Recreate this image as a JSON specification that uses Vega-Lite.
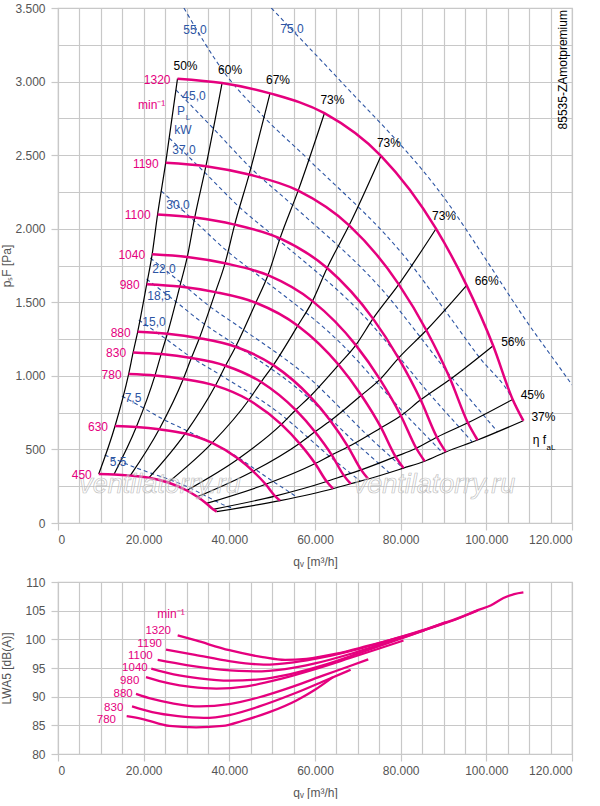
{
  "$schema": "https://vega.github.io/schema/vega-lite/v6.json",
  "padding": {"left": 0, "top": 1, "right": 0, "bottom": 0},
  "bounds": "flush",
  "spacing": 59,
  "config": {
    "font": "Liberation Sans",
    "view": {"stroke": "#c8c8c8", "strokeWidth": 1.2},
    "axis": {
      "domain": false,
      "gridColor": "#c8c8c8",
      "gridWidth": 1.2,
      "tickColor": "#c8c8c8",
      "tickWidth": 1.2,
      "tickSize": 7,
      "labelColor": "#555555",
      "labelFontSize": 12,
      "labelPadding": 4,
      "titleColor": "#555555",
      "titleFontSize": 12,
      "titleFontWeight": "normal"
    }
  },
  "datasets": {
    "grid": [
      {"n": 1320, "i": 0, "x": 27900, "y": 3020, "eta": "50%"},
      {"n": 1320, "i": 1, "x": 38300, "y": 2990, "eta": "60%"},
      {"n": 1320, "i": 2, "x": 49500, "y": 2920, "eta": "67%"},
      {"n": 1320, "i": 3, "x": 62200, "y": 2785, "eta": "73%"},
      {"n": 1320, "i": 4, "x": 75400, "y": 2495, "eta": "73%"},
      {"n": 1320, "i": 5, "x": 88250, "y": 2000, "eta": "73%"},
      {"n": 1320, "i": 6, "x": 95400, "y": 1615, "eta": "66%"},
      {"n": 1320, "i": 7, "x": 101600, "y": 1205, "eta": "56%"},
      {"n": 1320, "i": 8, "x": 106150, "y": 840, "eta": "45%"},
      {"n": 1320, "i": 9, "x": 108650, "y": 695, "eta": "37%"},
      {"n": 1190, "i": 0, "x": 25150, "y": 2449},
      {"n": 1190, "i": 1, "x": 34530, "y": 2425},
      {"n": 1190, "i": 2, "x": 44620, "y": 2368},
      {"n": 1190, "i": 3, "x": 56070, "y": 2259},
      {"n": 1190, "i": 4, "x": 67970, "y": 2023},
      {"n": 1190, "i": 5, "x": 79560, "y": 1622},
      {"n": 1190, "i": 6, "x": 86000, "y": 1310},
      {"n": 1190, "i": 7, "x": 91590, "y": 977},
      {"n": 1190, "i": 8, "x": 95690, "y": 681},
      {"n": 1190, "i": 9, "x": 97950, "y": 564},
      {"n": 1100, "i": 0, "x": 23250, "y": 2097},
      {"n": 1100, "i": 1, "x": 31920, "y": 2076},
      {"n": 1100, "i": 2, "x": 41250, "y": 2028},
      {"n": 1100, "i": 3, "x": 51830, "y": 1934},
      {"n": 1100, "i": 4, "x": 62830, "y": 1733},
      {"n": 1100, "i": 5, "x": 73540, "y": 1389},
      {"n": 1100, "i": 6, "x": 79500, "y": 1121},
      {"n": 1100, "i": 7, "x": 84660, "y": 837},
      {"n": 1100, "i": 8, "x": 88460, "y": 583},
      {"n": 1100, "i": 9, "x": 90540, "y": 483},
      {"n": 1040, "i": 0, "x": 21980, "y": 1826},
      {"n": 1040, "i": 1, "x": 30180, "y": 1808},
      {"n": 1040, "i": 2, "x": 39000, "y": 1765},
      {"n": 1040, "i": 3, "x": 49010, "y": 1684},
      {"n": 1040, "i": 4, "x": 59410, "y": 1508},
      {"n": 1040, "i": 5, "x": 69530, "y": 1209},
      {"n": 1040, "i": 6, "x": 75170, "y": 976},
      {"n": 1040, "i": 7, "x": 80050, "y": 729},
      {"n": 1040, "i": 8, "x": 83640, "y": 508},
      {"n": 1040, "i": 9, "x": 85610, "y": 420},
      {"n": 980, "i": 0, "x": 20710, "y": 1623},
      {"n": 980, "i": 1, "x": 28430, "y": 1607},
      {"n": 980, "i": 2, "x": 36750, "y": 1569},
      {"n": 980, "i": 3, "x": 46180, "y": 1497},
      {"n": 980, "i": 4, "x": 55980, "y": 1341},
      {"n": 980, "i": 5, "x": 65520, "y": 1075},
      {"n": 980, "i": 6, "x": 70820, "y": 868},
      {"n": 980, "i": 7, "x": 75430, "y": 648},
      {"n": 980, "i": 8, "x": 78810, "y": 451},
      {"n": 980, "i": 9, "x": 80660, "y": 373},
      {"n": 880, "i": 0, "x": 18600, "y": 1299},
      {"n": 880, "i": 1, "x": 25530, "y": 1286},
      {"n": 880, "i": 2, "x": 33000, "y": 1256},
      {"n": 880, "i": 3, "x": 41470, "y": 1198},
      {"n": 880, "i": 4, "x": 50270, "y": 1073},
      {"n": 880, "i": 5, "x": 58830, "y": 860},
      {"n": 880, "i": 6, "x": 63600, "y": 695},
      {"n": 880, "i": 7, "x": 67730, "y": 518},
      {"n": 880, "i": 8, "x": 70770, "y": 361},
      {"n": 880, "i": 9, "x": 72430, "y": 299},
      {"n": 830, "i": 0, "x": 17540, "y": 1159},
      {"n": 830, "i": 1, "x": 24080, "y": 1148},
      {"n": 830, "i": 2, "x": 31130, "y": 1121},
      {"n": 830, "i": 3, "x": 39110, "y": 1069},
      {"n": 830, "i": 4, "x": 47410, "y": 958},
      {"n": 830, "i": 5, "x": 55490, "y": 768},
      {"n": 830, "i": 6, "x": 59990, "y": 620},
      {"n": 830, "i": 7, "x": 63890, "y": 463},
      {"n": 830, "i": 8, "x": 66750, "y": 322},
      {"n": 830, "i": 9, "x": 68320, "y": 267},
      {"n": 780, "i": 0, "x": 16490, "y": 1012},
      {"n": 780, "i": 1, "x": 22630, "y": 1002},
      {"n": 780, "i": 2, "x": 29250, "y": 979},
      {"n": 780, "i": 3, "x": 36750, "y": 934},
      {"n": 780, "i": 4, "x": 44550, "y": 836},
      {"n": 780, "i": 5, "x": 52150, "y": 670},
      {"n": 780, "i": 6, "x": 56370, "y": 541},
      {"n": 780, "i": 7, "x": 60040, "y": 404},
      {"n": 780, "i": 8, "x": 62720, "y": 282},
      {"n": 780, "i": 9, "x": 64200, "y": 233},
      {"n": 630, "i": 0, "x": 13320, "y": 659},
      {"n": 630, "i": 1, "x": 18280, "y": 652},
      {"n": 630, "i": 2, "x": 23630, "y": 637},
      {"n": 630, "i": 3, "x": 29690, "y": 608},
      {"n": 630, "i": 4, "x": 35990, "y": 544},
      {"n": 630, "i": 5, "x": 42120, "y": 436},
      {"n": 630, "i": 6, "x": 45530, "y": 352},
      {"n": 630, "i": 7, "x": 48490, "y": 263},
      {"n": 630, "i": 8, "x": 50670, "y": 183},
      {"n": 630, "i": 9, "x": 51860, "y": 152},
      {"n": 450, "i": 0, "x": 9510, "y": 333},
      {"n": 450, "i": 1, "x": 13060, "y": 330},
      {"n": 450, "i": 2, "x": 16870, "y": 322},
      {"n": 450, "i": 3, "x": 21200, "y": 307},
      {"n": 450, "i": 4, "x": 25700, "y": 275},
      {"n": 450, "i": 5, "x": 30080, "y": 221},
      {"n": 450, "i": 6, "x": 32520, "y": 178},
      {"n": 450, "i": 7, "x": 34640, "y": 133},
      {"n": 450, "i": 8, "x": 36190, "y": 93},
      {"n": 450, "i": 9, "x": 37040, "y": 77}
    ],
    "power": [
      {"P": "5,5", "x": 10910, "y": 462}, {"P": "5,5", "x": 14370, "y": 421}, {"P": "5,5", "x": 17830, "y": 379},
      {"P": "5,5", "x": 21700, "y": 339}, {"P": "5,5", "x": 30600, "y": 241},
      {"P": "5,5", "x": 33480, "y": 199}, {"P": "5,5", "x": 36430, "y": 155}, {"P": "5,5", "x": 39340, "y": 115},
      {"P": "5,5", "x": 41200, "y": 98},
      {"P": "7,5", "x": 14920, "y": 863}, {"P": "7,5", "x": 19640, "y": 787}, {"P": "7,5", "x": 24370, "y": 708},
      {"P": "7,5", "x": 29660, "y": 633}, {"P": "7,5", "x": 41830, "y": 449},
      {"P": "7,5", "x": 45750, "y": 371}, {"P": "7,5", "x": 49800, "y": 290}, {"P": "7,5", "x": 53770, "y": 215},
      {"P": "7,5", "x": 55720, "y": 177},
      {"P": "15,0", "x": 18860, "y": 1380}, {"P": "15,0", "x": 24840, "y": 1258}, {"P": "15,0", "x": 30810, "y": 1132},
      {"P": "15,0", "x": 37510, "y": 1013}, {"P": "15,0", "x": 52890, "y": 718},
      {"P": "15,0", "x": 57850, "y": 594}, {"P": "15,0", "x": 62970, "y": 463}, {"P": "15,0", "x": 67990, "y": 345},
      {"P": "15,0", "x": 70570, "y": 285},
      {"P": "18,5", "x": 20670, "y": 1658}, {"P": "18,5", "x": 27230, "y": 1511}, {"P": "18,5", "x": 33780, "y": 1360},
      {"P": "18,5", "x": 41120, "y": 1217}, {"P": "18,5", "x": 57980, "y": 863},
      {"P": "18,5", "x": 63410, "y": 714}, {"P": "18,5", "x": 69030, "y": 556}, {"P": "18,5", "x": 74530, "y": 414},
      {"P": "18,5", "x": 77270, "y": 343},
      {"P": "22,0", "x": 21550, "y": 1801}, {"P": "22,0", "x": 28380, "y": 1641}, {"P": "22,0", "x": 35200, "y": 1477},
      {"P": "22,0", "x": 42860, "y": 1322}, {"P": "22,0", "x": 60430, "y": 938},
      {"P": "22,0", "x": 66090, "y": 775}, {"P": "22,0", "x": 71940, "y": 604}, {"P": "22,0", "x": 77670, "y": 450},
      {"P": "22,0", "x": 80570, "y": 373},
      {"P": "30,0", "x": 24110, "y": 2256}, {"P": "30,0", "x": 31750, "y": 2055}, {"P": "30,0", "x": 39400, "y": 1850},
      {"P": "30,0", "x": 47960, "y": 1655}, {"P": "30,0", "x": 67630, "y": 1174},
      {"P": "30,0", "x": 73960, "y": 971}, {"P": "30,0", "x": 80510, "y": 757}, {"P": "30,0", "x": 86930, "y": 563},
      {"P": "30,0", "x": 89850, "y": 475},
      {"P": "37,0", "x": 25970, "y": 2616}, {"P": "37,0", "x": 34200, "y": 2384}, {"P": "37,0", "x": 42430, "y": 2145},
      {"P": "37,0", "x": 51640, "y": 1920}, {"P": "37,0", "x": 72820, "y": 1362},
      {"P": "37,0", "x": 79660, "y": 1126}, {"P": "37,0", "x": 86710, "y": 878}, {"P": "37,0", "x": 93600, "y": 653},
      {"P": "37,0", "x": 96720, "y": 550},
      {"P": "45,0", "x": 27540, "y": 2943}, {"P": "45,0", "x": 36270, "y": 2681}, {"P": "45,0", "x": 45000, "y": 2413},
      {"P": "45,0", "x": 54780, "y": 2160}, {"P": "45,0", "x": 77250, "y": 1532},
      {"P": "45,0", "x": 84490, "y": 1267}, {"P": "45,0", "x": 91960, "y": 987}, {"P": "45,0", "x": 99280, "y": 735},
      {"P": "45,0", "x": 102600, "y": 620},
      {"P": "55,0", "x": 29400, "y": 3500}, {"P": "55,0", "x": 38770, "y": 3064}, {"P": "55,0", "x": 48100, "y": 2758},
      {"P": "55,0", "x": 58550, "y": 2468}, {"P": "55,0", "x": 82580, "y": 1751},
      {"P": "55,0", "x": 90310, "y": 1447}, {"P": "55,0", "x": 98300, "y": 1128}, {"P": "55,0", "x": 106130, "y": 840},
      {"P": "55,0", "x": 108400, "y": 700},
      {"P": "75,0", "x": 49800, "y": 3500}, {"P": "75,0", "x": 53340, "y": 3391}, {"P": "75,0", "x": 64940, "y": 3035},
      {"P": "75,0", "x": 91560, "y": 2153}, {"P": "75,0", "x": 100140, "y": 1780},
      {"P": "75,0", "x": 109010, "y": 1387}, {"P": "75,0", "x": 117700, "y": 1033}, {"P": "75,0", "x": 120000, "y": 939}
    ],
    "ann": [
      {"x": 31980, "y": 3350, "t": "55,0", "g": "b"},
      {"x": 54630, "y": 3357, "t": "75,0", "g": "b"},
      {"x": 31750, "y": 2902, "t": "45,0", "g": "b"},
      {"x": 28720, "y": 2800, "t": "P", "g": "b"},
      {"x": 29180, "y": 2671, "t": "kW", "g": "b"},
      {"x": 29410, "y": 2535, "t": "37,0", "g": "b"},
      {"x": 28010, "y": 2161, "t": "30,0", "g": "b"},
      {"x": 24750, "y": 1726, "t": "22,0", "g": "b"},
      {"x": 23580, "y": 1543, "t": "18,5", "g": "b"},
      {"x": 22410, "y": 1366, "t": "15,0", "g": "b"},
      {"x": 17510, "y": 849, "t": "7,5", "g": "b"},
      {"x": 14010, "y": 414, "t": "5,5", "g": "b"},
      {"x": 21870, "y": 2841, "t": "min⁻¹", "g": "m"},
      {"x": 112410, "y": 564, "t": "η f", "g": "k"}
    ],
    "annsub": [
      {"x": 30350, "y": 2755, "t": "L", "g": "b"},
      {"x": 115100, "y": 510, "t": "aL", "g": "k"}
    ],
    "code": [
      {"x": 117820, "y": 3486, "t": "85535-ZAmotpremium"}
    ],
    "mark": [
      {"x": 23810, "y": 258, "t": "ventilatorry.ru"},
      {"x": 87900, "y": 258, "t": "ventilatorry.ru"}
    ],
    "noise": [
      {"n": 1320, "x": 27940, "L": 100.7}, {"n": 1320, "x": 32220, "L": 99.8}, {"n": 1320, "x": 40000, "L": 98.1},
      {"n": 1320, "x": 47780, "L": 96.9}, {"n": 1320, "x": 53000, "L": 96.4}, {"n": 1320, "x": 58000, "L": 96.6},
      {"n": 1320, "x": 65000, "L": 97.5}, {"n": 1320, "x": 72000, "L": 98.8}, {"n": 1320, "x": 80000, "L": 100.4},
      {"n": 1320, "x": 88000, "L": 102.2}, {"n": 1320, "x": 94000, "L": 103.8}, {"n": 1320, "x": 98000, "L": 105.1},
      {"n": 1320, "x": 101000, "L": 105.9}, {"n": 1320, "x": 104000, "L": 107.2}, {"n": 1320, "x": 106500, "L": 107.9},
      {"n": 1320, "x": 108650, "L": 108.2},
      {"n": 1190, "x": 25210, "L": 98.2}, {"n": 1190, "x": 32000, "L": 97.3}, {"n": 1190, "x": 40000, "L": 96.2},
      {"n": 1190, "x": 48000, "L": 95.6}, {"n": 1190, "x": 55000, "L": 96.0}, {"n": 1190, "x": 62000, "L": 96.9},
      {"n": 1190, "x": 70000, "L": 98.3}, {"n": 1190, "x": 78000, "L": 100.0}, {"n": 1190, "x": 86000, "L": 101.8},
      {"n": 1190, "x": 92000, "L": 103.3}, {"n": 1190, "x": 97950, "L": 105.0},
      {"n": 1100, "x": 23270, "L": 96.4}, {"n": 1100, "x": 30000, "L": 95.5}, {"n": 1100, "x": 38000, "L": 94.7},
      {"n": 1100, "x": 46000, "L": 94.4}, {"n": 1100, "x": 53000, "L": 94.8}, {"n": 1100, "x": 60000, "L": 95.8},
      {"n": 1100, "x": 68000, "L": 97.4}, {"n": 1100, "x": 76000, "L": 99.3}, {"n": 1100, "x": 84000, "L": 101.2},
      {"n": 1100, "x": 90540, "L": 103.0},
      {"n": 1040, "x": 21780, "L": 94.9}, {"n": 1040, "x": 27000, "L": 93.9}, {"n": 1040, "x": 33000, "L": 93.2},
      {"n": 1040, "x": 40000, "L": 92.8}, {"n": 1040, "x": 47000, "L": 93.0}, {"n": 1040, "x": 54000, "L": 93.9},
      {"n": 1040, "x": 62000, "L": 95.5}, {"n": 1040, "x": 70000, "L": 97.5}, {"n": 1040, "x": 78000, "L": 99.6},
      {"n": 1040, "x": 85600, "L": 101.6},
      {"n": 980, "x": 20540, "L": 93.4}, {"n": 980, "x": 26000, "L": 92.3}, {"n": 980, "x": 31000, "L": 91.7},
      {"n": 980, "x": 37000, "L": 91.4}, {"n": 980, "x": 44000, "L": 91.8}, {"n": 980, "x": 52000, "L": 93.1},
      {"n": 980, "x": 60000, "L": 94.8}, {"n": 980, "x": 68000, "L": 96.7}, {"n": 980, "x": 75000, "L": 98.4},
      {"n": 980, "x": 80660, "L": 99.8},
      {"n": 880, "x": 18210, "L": 90.5}, {"n": 880, "x": 22000, "L": 89.6}, {"n": 880, "x": 27000, "L": 88.8},
      {"n": 880, "x": 33000, "L": 88.3}, {"n": 880, "x": 40000, "L": 88.7}, {"n": 880, "x": 47000, "L": 89.9},
      {"n": 880, "x": 55000, "L": 91.8}, {"n": 880, "x": 62000, "L": 93.7}, {"n": 880, "x": 68000, "L": 95.3},
      {"n": 880, "x": 72430, "L": 96.5},
      {"n": 830, "x": 17280, "L": 88.3}, {"n": 830, "x": 22000, "L": 87.3}, {"n": 830, "x": 28000, "L": 86.6},
      {"n": 830, "x": 34000, "L": 86.3}, {"n": 830, "x": 40000, "L": 86.8}, {"n": 830, "x": 47000, "L": 88.3},
      {"n": 830, "x": 55000, "L": 90.5}, {"n": 830, "x": 62000, "L": 92.7}, {"n": 830, "x": 68320, "L": 94.7},
      {"n": 780, "x": 16030, "L": 86.6}, {"n": 780, "x": 19770, "L": 86.1}, {"n": 780, "x": 25990, "L": 84.9},
      {"n": 780, "x": 32220, "L": 84.65}, {"n": 780, "x": 38450, "L": 84.9}, {"n": 780, "x": 43120, "L": 85.8},
      {"n": 780, "x": 49340, "L": 87.3}, {"n": 780, "x": 55560, "L": 89.3}, {"n": 780, "x": 60000, "L": 91.2},
      {"n": 780, "x": 64200, "L": 93.4}
    ],
    "lbl2": [
      {"x": 26380, "L": 101.4, "t": "1320"},
      {"x": 24280, "L": 99.2, "t": "1190"},
      {"x": 22110, "L": 97.1, "t": "1100"},
      {"x": 20940, "L": 95.0, "t": "1040"},
      {"x": 18980, "L": 92.8, "t": "980"},
      {"x": 17440, "L": 90.45, "t": "880"},
      {"x": 15240, "L": 88.1, "t": "830"},
      {"x": 13540, "L": 85.9, "t": "780"}
    ],
    "ann2": [
      {"x": 26380, "L": 104.5, "t": "min⁻¹"}
    ]
  },
  "vconcat": [
    {
      "width": 514,
      "height": 515,
      "encoding": {
        "x": {
          "field": "x",
          "type": "quantitative",
          "scale": {"domain": [0, 120000], "nice": false, "zero": false},
          "title": "qᵥ [m³/h]",
          "axis": {
            "values": [0, 5000, 10000, 15000, 20000, 25000, 30000, 35000, 40000, 45000, 50000, 55000, 60000, 65000, 70000, 75000, 80000, 85000, 90000, 95000, 100000, 105000, 110000, 115000, 120000],
            "labelExpr": "datum.value % 20000 === 0 ? replace(format(datum.value, ','), ',', '.') : ''",
            "tickOpacity": {"condition": {"test": "datum.value % 20000 === 0", "value": 1}, "value": 0},
            "titlePadding": 11
          }
        },
        "y": {
          "field": "y",
          "type": "quantitative",
          "scale": {"domain": [0, 3500], "nice": false},
          "title": "pₛF [Pa]",
          "axis": {
            "values": [0, 250, 500, 750, 1000, 1250, 1500, 1750, 2000, 2250, 2500, 2750, 3000, 3250, 3500],
            "labelExpr": "datum.value % 500 === 0 ? replace(format(datum.value, ','), ',', '.') : ''",
            "tickOpacity": {"condition": {"test": "datum.value % 500 === 0", "value": 1}, "value": 0},
            "labelPadding": 6,
            "titlePadding": 1
          }
        }
      },
      "layer": [
        {
          "data": {"name": "power"},
          "mark": {"type": "line", "clip": true, "color": "#2d55a4", "strokeWidth": 1.1, "strokeDash": [4, 3], "interpolate": "monotone"},
          "encoding": {"detail": {"field": "P"}}
        },
        {
          "data": {"name": "grid"},
          "mark": {"type": "line", "color": "#000000", "strokeWidth": 1.2, "interpolate": "monotone"},
          "encoding": {"detail": {"field": "i"}}
        },
        {
          "data": {"name": "grid"},
          "mark": {"type": "line", "color": "#e5007e", "strokeWidth": 2.5, "interpolate": "monotone"},
          "encoding": {"detail": {"field": "n"}}
        },
        {
          "data": {"name": "mark"},
          "mark": {"type": "text", "align": "center", "baseline": "middle", "fontSize": 27, "fontStyle": "italic", "color": "#ffffff", "fillOpacity": 0.35, "stroke": "#b0b0b0", "strokeWidth": 0.7, "strokeOpacity": 0.8},
          "encoding": {"text": {"field": "t", "type": "nominal"}}
        },
        {
          "data": {"name": "grid"},
          "transform": [{"filter": "datum.i === 0"}],
          "mark": {"type": "text", "align": "right", "baseline": "middle", "dx": -7, "dy": 1, "fontSize": 12, "color": "#e5007e"},
          "encoding": {"text": {"field": "n", "type": "nominal"}}
        },
        {
          "data": {"name": "grid"},
          "transform": [{"filter": "datum.n === 1320 && datum.i <= 5"}],
          "mark": {"type": "text", "align": "center", "baseline": "middle", "dx": 8, "dy": -13, "fontSize": 12, "color": "#000000"},
          "encoding": {"text": {"field": "eta", "type": "nominal"}}
        },
        {
          "data": {"name": "grid"},
          "transform": [{"filter": "datum.n === 1320 && datum.i >= 6"}],
          "mark": {"type": "text", "align": "left", "baseline": "middle", "dx": 8, "dy": -4, "fontSize": 12, "color": "#000000"},
          "encoding": {"text": {"field": "eta", "type": "nominal"}}
        },
        {
          "data": {"name": "ann"},
          "mark": {"type": "text", "align": "center", "baseline": "middle", "fontSize": 12},
          "encoding": {
            "text": {"field": "t", "type": "nominal"},
            "color": {"field": "g", "type": "nominal", "scale": {"domain": ["b", "m", "k"], "range": ["#2d55a4", "#e5007e", "#000000"]}, "legend": null}
          }
        },
        {
          "data": {"name": "annsub"},
          "mark": {"type": "text", "align": "center", "baseline": "middle", "fontSize": 8},
          "encoding": {
            "text": {"field": "t", "type": "nominal"},
            "color": {"field": "g", "type": "nominal", "scale": {"domain": ["b", "m", "k"], "range": ["#2d55a4", "#e5007e", "#000000"]}, "legend": null}
          }
        },
        {
          "data": {"name": "code"},
          "mark": {"type": "text", "angle": 270, "align": "right", "baseline": "middle", "fontSize": 12, "color": "#000000"},
          "encoding": {"text": {"field": "t", "type": "nominal"}}
        }
      ]
    },
    {
      "width": 514,
      "height": 172,
      "encoding": {
        "x": {
          "field": "x",
          "type": "quantitative",
          "scale": {"domain": [0, 120000], "nice": false, "zero": false},
          "title": "qᵥ [m³/h]",
          "axis": {
            "values": [0, 5000, 10000, 15000, 20000, 25000, 30000, 35000, 40000, 45000, 50000, 55000, 60000, 65000, 70000, 75000, 80000, 85000, 90000, 95000, 100000, 105000, 110000, 115000, 120000],
            "labelExpr": "datum.value % 20000 === 0 ? replace(format(datum.value, ','), ',', '.') : ''",
            "tickOpacity": {"condition": {"test": "datum.value % 20000 === 0", "value": 1}, "value": 0},
            "titlePadding": 11
          }
        },
        "y": {
          "field": "L",
          "type": "quantitative",
          "scale": {"domain": [80, 110], "nice": false, "zero": false},
          "title": "LWA5 [dB(A)]",
          "axis": {
            "values": [80, 85, 90, 95, 100, 105, 110],
            "labelPadding": 6,
            "titlePadding": 11
          }
        }
      },
      "layer": [
        {
          "data": {"name": "noise"},
          "mark": {"type": "line", "color": "#e5007e", "strokeWidth": 2.3, "interpolate": "monotone"},
          "encoding": {"detail": {"field": "n"}}
        },
        {
          "data": {"name": "lbl2"},
          "mark": {"type": "text", "align": "right", "baseline": "middle", "fontSize": 11.5, "color": "#e5007e"},
          "encoding": {"text": {"field": "t", "type": "nominal"}}
        },
        {
          "data": {"name": "ann2"},
          "mark": {"type": "text", "align": "center", "baseline": "middle", "fontSize": 12, "color": "#e5007e"},
          "encoding": {"text": {"field": "t", "type": "nominal"}}
        }
      ]
    }
  ]
}
